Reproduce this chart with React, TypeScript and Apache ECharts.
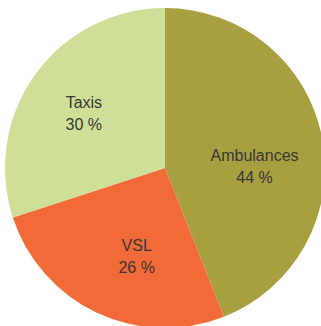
import React, { useEffect, useRef } from "react";
import * as echarts from "echarts";

const categories = ["Ambulances", "VSL", "Taxis"];
const values = [44, 26, 30];
const colors = ["#a89f40", "#f26a37", "#cfdf98"];
const labelOffsets: [number, number][] = [[8, 14], [7, 13], [-14, -6]];

export default function App() {
  const ref = useRef<HTMLDivElement>(null);
  useEffect(() => {
    if (!ref.current) return;
    const chart = echarts.init(ref.current, undefined, { renderer: "svg" });
    chart.setOption({
      animation: false,
      backgroundColor: "#ffffff",
      series: [
        {
          type: "pie",
          center: [165, 168],
          radius: 160,
          startAngle: 90,
          clockwise: true,
          avoidLabelOverlap: false,
          label: {
            position: "inside",
            formatter: (p: any) => `${p.name}\n${p.value} %`,
            fontFamily: "'Liberation Sans Narrow', 'Liberation Sans', Arial, sans-serif",
            fontSize: 16,
            lineHeight: 22,
            color: "#363636",
            align: "center",
          },
          labelLine: { show: false },
          emphasis: { disabled: true },
          itemStyle: { borderWidth: 0 },
          data: categories.map((c, i) => ({
            name: c,
            value: values[i],
            itemStyle: { color: colors[i] },
            label: { offset: labelOffsets[i] },
          })),
        },
      ],
    });
    return () => chart.dispose();
  }, []);
  return (
    <div
      ref={ref}
      style={{ position: "fixed", left: 0, top: 0, width: 321, height: 326 }}
    />
  );
}
